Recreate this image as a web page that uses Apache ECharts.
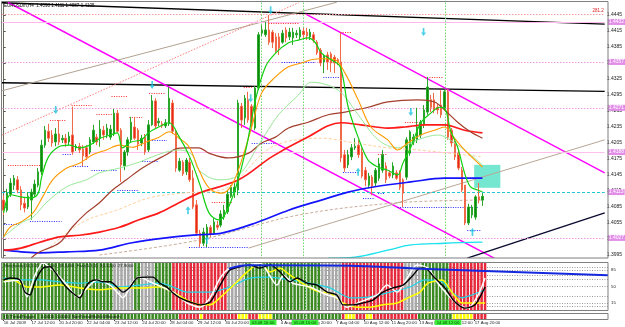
<!DOCTYPE html>
<html><head><meta charset="utf-8">
<script src="https://cdn.jsdelivr.net/npm/echarts@6/dist/echarts.min.js"></script>
<style>html,body{margin:0;padding:0;background:#fff}#c{width:625px;height:327px}</style>
</head><body><div id="c"></div>
<script>
// ---------- DATA ----------
const NCAT = 175;
const tickLabels = [[0,'16 Jul 2009'],[8,'17 Jul 12:00'],[16,'20 Jul 20:00'],[24,'22 Jul 04:00'],[32,'23 Jul 12:00'],[40,'24 Jul 20:00'],[48,'28 Jul 04:00'],[56,'29 Jul 12:00'],[64,'30 Jul 20:00'],[72,'3 Aug 04:00'],[80,'4 Aug 12:00'],[88,'5 Aug 20:00'],[96,'7 Aug 04:00'],[104,'10 Aug 12:00'],[112,'11 Aug 20:00'],[120,'13 Aug 04:00'],[128,'14 Aug 12:00'],[136,'17 Aug 20:00']];
const priceTicks = [1.3995, 1.4445];

const opens=[1.4098,1.4079,1.4109,1.4126,1.4136,1.4117,1.4092,1.4085,1.4098,1.4109,
1.4126,1.4151,1.4201,1.4227,1.4220,1.4207,1.4222,1.4211,1.4214,1.4207,
1.4220,1.4196,1.4199,1.4194,1.4196,1.4188,1.4207,1.4216,1.4214,1.4229,
1.4220,1.4216,1.4222,1.4261,1.4229,1.4162,1.4188,1.4211,1.4235,1.4229,
1.4205,1.4216,1.4192,1.4239,1.4284,1.4243,1.4241,1.4237,1.4241,1.4280,
1.4227,1.4154,1.4169,1.4151,1.4169,1.4139,1.4089,1.4036,1.4017,1.4027,
1.4047,1.4036,1.4051,1.4051,1.4066,1.4076,1.4105,1.4113,1.4117,1.4274,
1.4252,1.4286,1.4274,1.4233,1.4308,1.4411,1.4408,1.4417,1.4413,1.4404,
1.4404,1.4394,1.4417,1.4404,1.4402,1.4408,1.4404,1.4415,1.4413,1.4404,
1.4408,1.4394,1.4379,1.4357,1.4370,1.4372,1.4366,1.4361,1.4357,1.4183,
1.4164,1.4179,1.4196,1.4201,1.4188,1.4154,1.4126,1.4141,1.4130,1.4139,
1.4154,1.4162,1.4149,1.4145,1.4149,1.4149,1.4136,1.4141,1.4186,1.4207,
1.4211,1.4220,1.4239,1.4263,1.4286,1.4286,1.4272,1.4276,1.4271,1.4301,
1.4229,1.4205,1.4186,1.4154,1.4126,1.4055,1.4070,1.4066,1.4104,1.4098];
const closes=[1.4079,1.4111,1.4130,1.4139,1.4117,1.4089,1.4083,1.4105,1.4113,1.4128,
1.4151,1.4201,1.4229,1.4214,1.4205,1.4222,1.4207,1.4214,1.4205,1.4218,
1.4188,1.4199,1.4192,1.4181,1.4179,1.4211,1.4229,1.4207,1.4231,1.4220,
1.4233,1.4231,1.4261,1.4227,1.4164,1.4188,1.4211,1.4244,1.4214,1.4203,
1.4214,1.4188,1.4239,1.4284,1.4237,1.4246,1.4237,1.4243,1.4289,1.4227,
1.4158,1.4171,1.4147,1.4173,1.4136,1.4085,1.4036,1.4017,1.4038,1.4047,
1.4034,1.4057,1.4047,1.4072,1.4079,1.4109,1.4122,1.4122,1.4280,1.4248,
1.4289,1.4248,1.4243,1.4308,1.4408,1.4417,1.4417,1.4394,1.4394,1.4378,
1.4383,1.4411,1.4402,1.4413,1.4413,1.4411,1.4417,1.4408,1.4406,1.4413,
1.4398,1.4374,1.4355,1.4368,1.4357,1.4355,1.4355,1.4357,1.4177,1.4158,
1.4183,1.4196,1.4199,1.4183,1.4143,1.4136,1.4143,1.4124,1.4154,1.4166,
1.4183,1.4136,1.4143,1.4162,1.4139,1.4122,1.4111,1.4211,1.4226,1.4216,
1.4235,1.4244,1.4267,1.4310,1.4272,1.4267,1.4267,1.4258,1.4301,1.4216,
1.4205,1.4179,1.4158,1.4117,1.4055,1.4085,1.4085,1.4104,1.4098,1.4105];
const highs=[1.4107,1.4119,1.4139,1.4145,1.4143,1.4124,1.4102,1.4113,1.4119,1.4136,
1.4158,1.4211,1.4237,1.4241,1.4229,1.4233,1.4248,1.4220,1.4222,1.4226,
1.4273,1.4203,1.4205,1.4201,1.4201,1.4216,1.4239,1.4222,1.4248,1.4237,
1.4241,1.4239,1.4269,1.4267,1.4233,1.4192,1.4216,1.4254,1.4254,1.4233,
1.4220,1.4222,1.4248,1.4295,1.4289,1.4252,1.4246,1.4250,1.4310,1.4286,
1.4229,1.4177,1.4173,1.4177,1.4177,1.4154,1.4098,1.4042,1.4046,1.4053,
1.4051,1.4064,1.4059,1.4079,1.4089,1.4117,1.4126,1.4130,1.4286,1.4280,
1.4295,1.4301,1.4278,1.4312,1.4413,1.4426,1.4432,1.4445,1.4417,1.4411,
1.4411,1.4417,1.4422,1.4421,1.4421,1.4417,1.4422,1.4421,1.4421,1.4419,
1.4413,1.4398,1.4383,1.4372,1.4376,1.4376,1.4370,1.4364,1.4411,1.4192,
1.4192,1.4203,1.4214,1.4211,1.4196,1.4160,1.4149,1.4145,1.4158,1.4177,
1.4192,1.4169,1.4154,1.4169,1.4154,1.4154,1.4139,1.4216,1.4229,1.4222,
1.4271,1.4248,1.4276,1.4329,1.4295,1.4299,1.4278,1.4304,1.4304,1.4306,
1.4233,1.4209,1.4192,1.4160,1.4126,1.4091,1.4089,1.4107,1.4130,1.4111];
const lows=[1.4070,1.4075,1.4104,1.4117,1.4111,1.4079,1.4075,1.4081,1.4061,1.4104,
1.4122,1.4145,1.4196,1.4207,1.4198,1.4199,1.4201,1.4205,1.4198,1.4201,
1.4183,1.4190,1.4186,1.4162,1.4173,1.4184,1.4203,1.4201,1.4198,1.4211,
1.4214,1.4211,1.4218,1.4224,1.4132,1.4154,1.4181,1.4205,1.4211,1.4192,
1.4199,1.4183,1.4188,1.4237,1.4233,1.4237,1.4233,1.4233,1.4237,1.4222,
1.4151,1.4151,1.4143,1.4145,1.4132,1.4081,1.4031,1.4010,1.4012,1.4010,
1.4029,1.4033,1.4042,1.4047,1.4061,1.4072,1.4102,1.4102,1.4107,1.4233,
1.4239,1.4243,1.4233,1.4229,1.4304,1.4406,1.4404,1.4389,1.4383,1.4374,
1.4370,1.4391,1.4394,1.4398,1.4389,1.4402,1.4398,1.4402,1.4398,1.4398,
1.4393,1.4370,1.4349,1.4336,1.4342,1.4338,1.4336,1.4351,1.4169,1.4151,
1.4158,1.4173,1.4192,1.4177,1.4139,1.4124,1.4120,1.4107,1.4124,1.4134,
1.4149,1.4130,1.4139,1.4139,1.4136,1.4117,1.4085,1.4136,1.4181,1.4201,
1.4205,1.4214,1.4233,1.4258,1.4263,1.4261,1.4259,1.4252,1.4267,1.4211,
1.4198,1.4173,1.4154,1.4113,1.4051,1.4051,1.4064,1.4061,1.4092,1.4087];

const maFast=[[0,1.4074],[2,1.4108],[5,1.4104],[8,1.4102],[10,1.4111],[11,1.4141],[13,1.4179],[16,1.4198],[19,1.4201],[22,1.4196],[25,1.4201],[28,1.4214],[31,1.4220],[33,1.4224],[34.5,1.4196],[37,1.4207],[40,1.4211],[42,1.4224],[45,1.4235],[48,1.4243],[51,1.4216],[54,1.4179],[57,1.4126],[59.6,1.4074],[62.5,1.4061],[64.5,1.4074],[67.4,1.4122],[70.3,1.4192],[73.1,1.4286],[76,1.4348],[79,1.4374],[82.7,1.4393],[85.6,1.4398],[88.4,1.4402],[90.5,1.4393],[92.2,1.4374],[95.1,1.4361],[97.7,1.4348],[100,1.4273],[102.9,1.4216],[105.8,1.4173],[108.7,1.4160],[111.5,1.4154],[114.4,1.4145],[115.9,1.4167],[118.2,1.4197],[121.1,1.4243],[124,1.4261],[126.6,1.4272],[128.3,1.4267],[129.7,1.4229],[131.8,1.4197],[133.8,1.4149],[135.5,1.4123],[137.6,1.4117],[139,1.4113]];
const maOrange=[[0,1.4029],[2,1.4048],[5,1.4057],[8.5,1.4074],[11.3,1.4104],[14.2,1.4136],[18.3,1.4158],[22,1.4167],[25.8,1.4183],[29.8,1.4192],[33.6,1.4201],[37.3,1.4197],[41.4,1.4207],[45.1,1.4216],[48,1.4226],[50.9,1.4214],[53.8,1.4198],[56.7,1.4154],[59.6,1.4121],[63.3,1.4111],[66.2,1.4126],[69.1,1.4173],[72,1.4235],[74.9,1.4299],[78.9,1.4329],[82.7,1.4348],[86.4,1.4355],[89.3,1.4361],[92.2,1.4363],[96.2,1.4361],[99.1,1.4336],[102.9,1.4286],[106.6,1.4235],[111.5,1.4211],[114.4,1.4192],[117.3,1.4205],[121.1,1.4220],[125.1,1.4229],[128,1.4235],[130.9,1.4214],[133.8,1.4192],[139,1.4160]];
const maPale=[[0,1.4029],[5,1.4055],[8.5,1.4066],[12.5,1.4094],[18.3,1.4123],[24,1.4136],[27.8,1.4149],[33.6,1.4158],[39.3,1.4169],[43.1,1.4179],[47.1,1.4188],[50.9,1.4192],[54.7,1.4183],[56.7,1.4154],[62.5,1.4136],[68.2,1.4145],[74,1.4201],[79.8,1.4258],[85.6,1.4295],[89.3,1.4319],[97.1,1.4304],[102.9,1.4258],[108.7,1.4211],[114.4,1.4196],[120.2,1.4211],[126,1.4220],[131.8,1.4201],[139,1.4164]];
const maBrown=[[8,1.3990],[10.5,1.4001],[16.2,1.4018],[20,1.4048],[24,1.4074],[27.8,1.4093],[31.6,1.4117],[35.6,1.4136],[39.3,1.4154],[43.1,1.4169],[47.1,1.4183],[50,1.4194],[52.9,1.4196],[56.7,1.4196],[59.6,1.4186],[65.3,1.4177],[71.1,1.4186],[74.9,1.4205],[78.9,1.4216],[82.7,1.4233],[88.4,1.4244],[94.2,1.4258],[99.1,1.4263],[105.8,1.4272],[111.5,1.4282],[120.2,1.4286],[125.1,1.4282],[128,1.4267],[131.8,1.4244],[135.5,1.4226],[139,1.4214]];
const maRed=[[0,1.4004],[5,1.4008],[10.5,1.4019],[16.2,1.4029],[22,1.4032],[27.8,1.4038],[33.6,1.4047],[39.3,1.4061],[45.1,1.4074],[50.9,1.4093],[56.7,1.4111],[68.2,1.4136],[77.8,1.4179],[87.6,1.4214],[98,1.4243],[103.7,1.4239],[111.5,1.4233],[116.5,1.4235],[122.2,1.4239],[128,1.4239],[133.8,1.4229],[139,1.4224]];
const maBlue=[[0,1.4004],[5,1.4001],[10.5,1.3999],[18.3,1.4001],[27.8,1.4004],[37.3,1.4018],[47.1,1.4027],[56.7,1.4033],[63.3,1.4036],[73.1,1.4055],[82.7,1.4079],[92.2,1.4098],[100,1.4113],[107.8,1.4123],[118.2,1.4132],[128,1.4139],[139,1.4139]];
const maLightOrange=[[13.4,1.4010],[23,1.4057],[32.7,1.4079],[42.2,1.4102],[51.8,1.4111],[63.3,1.4117],[77.8,1.4197],[92.2,1.4214],[102,1.4205],[111.5,1.4196],[120.2,1.4192],[139,1.4179]];
const maTan=[[27.8,1.3995],[56.7,1.4023],[85.6,1.4070],[114.4,1.4093],[139,1.4098]];
const maCyan=[[94.2,1.3989],[102,1.3991],[111.5,1.4004],[118.2,1.4014],[128,1.4017],[139,1.4019]];

const trendLines=[
 [[-0.5,1.4468],[174.5,1.4428]],
 [[-0.5,1.4318],[174.5,1.4302]],
 [[1.2,1.4469],[142.4,1.3989]],
 [[87.6,1.4447],[174.5,1.4149]],
 [[-0.5,1.4303],[96.7,1.4469]],
 [[-0.5,1.4220],[85.6,1.4468]],
 [[71.1,1.4008],[174.5,1.4211]],
 [[134.6,1.3989],[174.5,1.4074]]
];
const redMarks=[[1.2,11.9,1.4164],[13.4,18.3,1.4248],[19.7,25.5,1.4276],[26.9,31.6,1.4258],[31.3,35.9,1.4293],[36.5,40.2,1.4254],[42.2,47.1,1.4299],[60.4,66.2,1.4093],[69.7,72,1.4310],[76.9,85.6,1.4430],[97.7,100.9,1.4413],[108.7,111.5,1.4183],[116.5,120.2,1.4244],[122.2,127.4,1.4329]];
const blueMarks=[[0,4.7,1.4053],[7.6,16.8,1.4059],[17.1,19.7,1.4183],[20,24.9,1.4162],[25.5,33,1.4154],[33,39.3,1.4117],[40.2,45.1,1.4171],[43.1,47.4,1.4211],[53.8,71.1,1.4010],[72,78.9,1.4205],[80.7,90.5,1.4357],[92.8,97.7,1.4329],[98.5,102.9,1.4151],[104.3,107.8,1.4102],[108.7,110.7,1.4111],[114.4,137.6,1.4085],[134.6,138.4,1.4042]];
const levelPrices=[1.4447,1.4432,1.4357,1.4271,1.4188,1.4113,1.4027];
const levelNote='281.2';
const arrowsDown=[[15.1,1.4267],[43.1,1.4314],[71.7,1.4289],[77.5,1.4454],[118.2,1.4263],[121.9,1.4413]];
const arrowsUp=[[53.5,1.4079],[59,1.4023],[102.9,1.4151],[136.1,1.4038]];
const boxZone=[[136.6,1.4164],[144.2,1.4121]];
const vLines=[74.9,87,128.3];
const vLineLabels=['03.08 16:00','05.08 16:00','14.08 12:00'];

const panelRuns=[['g',32],['x',6],['g',2],['x',4],['g',5],['r',16],['x',5],['g',22],['x',6],['r',18],['x',5],['g',8],['r',11]];
const stripRuns=[['g',51],['r',6],['y',1],['r',10],['y',3],['r',3],['y',4],['g',20],['r',1],['y',3],['r',3],['y',2],['r',13],['g',10],['y',6],['r',4]];
const oscBlack=[[0,64],[1.8,68],[4.7,64],[6.1,38],[7.6,32],[9,60],[11.3,89],[13.4,92],[14.8,81],[16.8,60],[18.3,47],[20.6,32],[22,26],[23.5,47],[24.9,60],[26.9,64],[28.7,60],[30.7,60],[32.7,49],[34.4,38],[36.5,49],[38.5,68],[41.4,70],[43.1,70],[45.1,57],[47.1,49],[48.9,36],[50.9,26],[53.8,17],[56.7,11],[59.6,17],[62.5,53],[65.3,85],[68.2,92],[71.1,96],[74,89],[76.9,96],[79.8,81],[82.7,60],[84.7,68],[87.6,57],[90.5,53],[93.4,38],[96.2,32],[98,11],[100.9,11],[103.7,15],[106.6,21],[109.5,38],[112.4,47],[115.3,53],[118.2,74],[120.2,89],[121.6,89],[124.5,68],[127.4,47],[130.3,17],[133.2,4],[136.1,11],[139,49]];
const oscWhite=[[0,60],[4.7,64],[6.7,28],[9,74],[11.3,100],[14.2,85],[18.3,53],[21.2,28],[24.9,53],[26.9,64],[30.7,53],[32.7,38],[34.4,26],[37.3,60],[39.3,70],[42.2,60],[48.9,38],[52.9,15],[56.7,6],[59.6,26],[62.5,68],[65.3,89],[70.3,96],[74,100],[78.9,53],[80.7,74],[83.5,57],[88.4,49],[93.4,32],[96.2,26],[99.1,6],[102.9,17],[107.8,32],[110.7,53],[113.6,38],[116.5,68],[119.3,96],[122.5,89],[125.4,57],[128.3,32],[131.2,11],[134.1,4],[137,32],[139,68]];
const oscCyan=[[0,68],[4.7,64],[10.5,64],[16.2,60],[22,57],[27.8,60],[33.6,49],[39.3,53],[45.1,57],[48.9,49],[52.9,38],[59.6,38],[65.3,49],[71.1,68],[76.9,70],[82.7,64],[88.4,57],[94.2,47],[100,26],[105.8,28],[111.5,38],[117.3,49],[121.6,64],[126.6,60],[129.4,38],[132.3,26],[135.2,32],[139,43]];
const oscYellow=[[0,60],[2.7,64],[6.7,49],[10.5,49],[16.2,53],[22,47],[27.8,43],[33.6,47],[39.3,47],[45.1,49],[48.9,38],[52.9,21],[56.7,11],[59.6,11],[63.3,32],[67.4,60],[70.3,81],[74,100],[76.9,81],[79.8,89],[82.7,74],[85.6,60],[88.4,47],[91.3,38],[94.2,36],[98,15],[102,6],[105.8,6],[109.5,11],[113.6,15],[117.3,28],[120.2,38],[122.5,57],[126.6,64],[129.4,38],[132.3,15],[135.2,15],[139,15]];
const oscBlue=[[65,88],[70,95],[100,94],[120.2,88],[174.5,74]];
const oscLevels=[92,85,75,65,50,30,15,8];
const oscLevelLabels={85:'85',50:'50',15:'15'};

// ---------- CHART ----------
const cats=[]; for(let i=0;i<NCAT;i++) cats.push(String(i));
const tickMap={}; tickLabels.forEach(t=>tickMap[t[0]]=t[1]);
const expand=runs=>{const o=[];runs.forEach(r=>{for(let k=0;k<r[1];k++)o.push(r[0]);});return o;};
const panelStates=expand(panelRuns), stripStates=expand(stripRuns);
const panelColors={g:'#3b8a22',x:'#a8a8a8',r:'#e62a3c'};
const stripColors={g:'#3b8a22',r:'#e62a3c',y:'#ffff00'};
const FONT='Liberation Sans, Arial, sans-serif';
const XMIN=-0.5, XMAX=NCAT-0.5;

const trendStyles=[
 {color:'#000',width:1.3},{color:'#000',width:1.3},{color:'#ff00ff',width:1.5},{color:'#ff00ff',width:1.5},
 {color:'#b0a290',width:1},{color:'#ff7f7f',width:1,type:[1.5,1.5]},{color:'#b8a696',width:1},{color:'#0a0a30',width:1.4}];
const levelStyles=[
 {color:'#ff9d9d',type:[1.5,1.5],width:1},{color:'#ffb8ee',type:'solid',width:1},{color:'#f09ae4',type:[1.5,1.5],width:1},
 {color:'#f09ae4',type:[1.5,1.5],width:1},{color:'#ffc0f0',type:'solid',width:1},{color:'#1ec8d0',type:[3,2],width:1},{color:'#f09ae4',type:[1.5,1.5],width:1}];
trendStyles.forEach(s=>s.opacity=1); levelStyles.forEach(s=>s.opacity=1);

function maSeries(d,color,width,type,z){return {type:'line',xAxisIndex:1,yAxisIndex:0,data:d,showSymbol:false,smooth:0.35,silent:true,z:z||4,lineStyle:{color:color,width:width,type:type||'solid'}};}
function oscSeries(d,color,width){return {type:'line',xAxisIndex:3,yAxisIndex:1,data:d,showSymbol:false,smooth:0.25,silent:true,z:13,lineStyle:{color:color,width:width}};}

const levelData=levelPrices.map((p,k)=>({coords:[[XMIN,p],[XMAX,p]],lineStyle:levelStyles[k],
 label:k===0?{show:true,position:'insideEndTop',formatter:levelNote,color:'#e02020',fontSize:4.5,distance:1,fontFamily:FONT}
 :{show:true,position:'end',formatter:p.toFixed(4),color:'#ffffff',backgroundColor:'#e28ee8',fontSize:5,padding:[1,1,0,1],distance:3,fontFamily:FONT}}));

const option={
 animation:false,
 backgroundColor:'#ffffff',
 grid:[{left:2,right:17,top:2,height:269},{left:2,right:17,top:263,height:47},{left:2,right:17,top:314,height:5}],
 xAxis:[
  {type:'category',gridIndex:0,data:cats,show:false},
  {type:'value',gridIndex:0,min:XMIN,max:XMAX,show:false},
  {type:'category',gridIndex:1,data:cats,show:false},
  {type:'value',gridIndex:1,min:XMIN,max:XMAX,show:false},
  {type:'category',gridIndex:2,data:cats,axisLine:{show:false},
   axisTick:{show:true,alignWithLabel:true,interval:(i)=>tickMap[i]!==undefined,length:2,lineStyle:{color:'#444'}},
   axisLabel:{interval:(i)=>tickMap[i]!==undefined,formatter:(v,i)=>tickMap[i]||'',align:'left',fontSize:4.3,color:'#222',margin:2,fontFamily:FONT}},
  {type:'value',gridIndex:2,min:XMIN,max:XMAX,show:false}
 ],
 yAxis:[
  {type:'value',gridIndex:0,position:'right',min:1.3965,max:1.44694,interval:0.003,
   axisLine:{show:true,lineStyle:{color:'#6a6a5a'}},axisTick:{show:true,length:2,lineStyle:{color:'#555'}},splitLine:{show:false},
   axisLabel:{fontSize:5,color:'#222',margin:2,fontFamily:FONT,formatter:v=>(v<priceTicks[0]-0.0005||v>priceTicks[1]+0.0005)?'':v.toFixed(4)}},
  {type:'value',gridIndex:1,min:0,max:100,show:false},
  {type:'value',gridIndex:2,min:0,max:1,show:false}
 ],
 graphic:[
  {type:'rect',shape:{x:0,y:258,width:625,height:55.5},style:{fill:'#ffffff'},z:10,silent:true},
  {type:'rect',shape:{x:1.5,y:1.5,width:606.5,height:256.5},style:{fill:'none',stroke:'#7f7f7f',lineWidth:1},z:20,silent:true},
  {type:'rect',shape:{x:1.5,y:262.5,width:606.5,height:48},style:{fill:'none',stroke:'#7f7f7f',lineWidth:1},z:20,silent:true},
  {type:'rect',shape:{x:1.5,y:313.5,width:606.5,height:6},style:{fill:'none',stroke:'#7f7f7f',lineWidth:1},z:20,silent:true},
  {type:'text',x:4,y:3,style:{text:'EURUSDm,H4  1.4098 1.4111 1.4087 1.4105',fontSize:4.5,fill:'#000',font:'4.5px '+FONT},z:21,silent:true},
  {type:'text',x:4,y:264,style:{text:'Stochastic(14,3,3)  21.2600  18.5400  Fast(5,3,3)  30.1200  27.9000',fontSize:4.3,fill:'#102010',font:'4.3px '+FONT},z:21,silent:true},
  {type:'text',x:4,y:314.5,style:{text:'(1) TrendTrigger     0.0000  0.0000  NonTrend/Bullish/Bearish',fontSize:4.3,fill:'#101010',font:'4.3px '+FONT},z:21,silent:true}
 ],
 series:[
  {type:'lines',coordinateSystem:'cartesian2d',xAxisIndex:1,yAxisIndex:0,z:2,silent:true,lineStyle:{opacity:1},
   data:trendLines.map((c,k)=>({coords:c,lineStyle:trendStyles[k]}))},
  {type:'lines',coordinateSystem:'cartesian2d',xAxisIndex:1,yAxisIndex:0,z:2,silent:true,clip:false,lineStyle:{opacity:1},data:levelData},
  {type:'lines',coordinateSystem:'cartesian2d',xAxisIndex:1,yAxisIndex:0,z:2,silent:true,
   lineStyle:{color:'#6fd86f',width:1,type:[1.5,1.5],opacity:1},data:vLines.map(v=>({coords:[[v,1.3965],[v,1.44694]]}))},
  {type:'lines',coordinateSystem:'cartesian2d',xAxisIndex:1,yAxisIndex:0,z:2,silent:true,
   lineStyle:{color:'#ff2a2a',width:1,type:[1,1.4],opacity:1},data:redMarks.map(m=>({coords:[[m[0],m[2]],[m[1],m[2]]]}))},
  {type:'lines',coordinateSystem:'cartesian2d',xAxisIndex:1,yAxisIndex:0,z:2,silent:true,
   lineStyle:{color:'#2a2aff',width:1,type:[1,1.4],opacity:1},data:blueMarks.map(m=>({coords:[[m[0],m[2]],[m[1],m[2]]]}))},
  maSeries(maTan,'#c9ad9c',1,[3,2],2),
  {type:'candlestick',xAxisIndex:0,yAxisIndex:0,z:3,barWidth:2,silent:true,
   data:opens.map((o,i)=>[o,closes[i],lows[i],highs[i]]),
   itemStyle:{color:'#0c8a0c',color0:'#e8261c',borderColor:'#2aa62a',borderColor0:'#f06a48',borderWidth:1}},
  maSeries(maLightOrange,'#ffcf9e',1,[3,2]),
  maSeries(maCyan,'#18e2ee',1.3),
  maSeries(maBlue,'#1414ff',1.7),
  maSeries(maRed,'#ff1a1a',1.7),
  maSeries(maBrown,'#a33f2c',1.2),
  maSeries(maPale,'#9ae89a',1),
  maSeries(maOrange,'#ff9a00',1.1),
  maSeries(maFast,'#10d010',1.2),
  {type:'line',xAxisIndex:1,yAxisIndex:0,data:[],z:5,silent:true,
   markArea:{silent:true,itemStyle:{color:'#66e4cb',opacity:0.9},data:[[{coord:boxZone[0]},{coord:boxZone[1]}]]}},
  {type:'scatter',xAxisIndex:1,yAxisIndex:0,z:6,silent:true,data:arrowsDown,
   symbol:'path://M2,0 L4,0 L4,5 L6,5 L3,9 L0,5 L2,5 Z',symbolSize:[5,8],itemStyle:{color:'#1ec4e0'}},
  {type:'scatter',xAxisIndex:1,yAxisIndex:0,z:6,silent:true,data:arrowsUp,
   symbol:'path://M3,0 L6,4 L4,4 L4,9 L2,9 L2,4 L0,4 Z',symbolSize:[5,8],itemStyle:{color:'#1ec4e0'}},
  // oscillator panel
  {type:'lines',coordinateSystem:'cartesian2d',xAxisIndex:3,yAxisIndex:1,z:11,silent:true,clip:false,lineStyle:{opacity:1},
   data:oscLevels.map(v=>({coords:[[XMIN,v],[XMAX,v]],lineStyle:{color:'#9a9a9a',type:[1,1.5],width:1,opacity:1},
     label:oscLevelLabels[v]?{show:true,position:'end',formatter:oscLevelLabels[v],fontSize:4.3,color:'#222',distance:3,fontFamily:FONT}:{show:false}}))},
  {type:'bar',xAxisIndex:2,yAxisIndex:1,z:12,silent:true,barWidth:2.5,
   data:panelStates.map(s=>({value:100,itemStyle:{color:panelColors[s]}}))},
  {type:'lines',coordinateSystem:'cartesian2d',xAxisIndex:3,yAxisIndex:1,z:13,silent:true,
   lineStyle:{color:'#8be08b',width:1,type:[1.5,1.5],opacity:1},data:vLines.map(v=>({coords:[[v,0],[v,100]]}))},
  oscSeries(oscCyan,'#22d4e6',1.2),
  oscSeries(oscYellow,'#ffff00',1.5),
  oscSeries(oscWhite,'#ffffff',1.5),
  oscSeries(oscBlack,'#000000',1.4),
  oscSeries(oscBlue,'#1428e0',2),
  // trend strip
  {type:'bar',xAxisIndex:4,yAxisIndex:2,z:12,silent:true,barWidth:2.6,
   data:stripStates.map(s=>({value:1,itemStyle:{color:stripColors[s]}}))},
  {type:'lines',coordinateSystem:'cartesian2d',xAxisIndex:5,yAxisIndex:2,z:14,silent:true,clip:false,
   lineStyle:{color:'#8be08b',width:1,type:[1.5,1.5],opacity:1},
   data:vLines.map((v,k)=>({coords:[[v,0],[v,1]],
     label:{show:true,position:'start',formatter:vLineLabels[k],backgroundColor:'#3cf03c',color:'#0a4a0a',fontSize:4.3,padding:[1,2,0,2],distance:1,fontFamily:FONT}}))}
 ]
};
const chart=echarts.init(document.getElementById('c'),null,{renderer:'canvas'});
chart.setOption(option);
</script></body></html>
